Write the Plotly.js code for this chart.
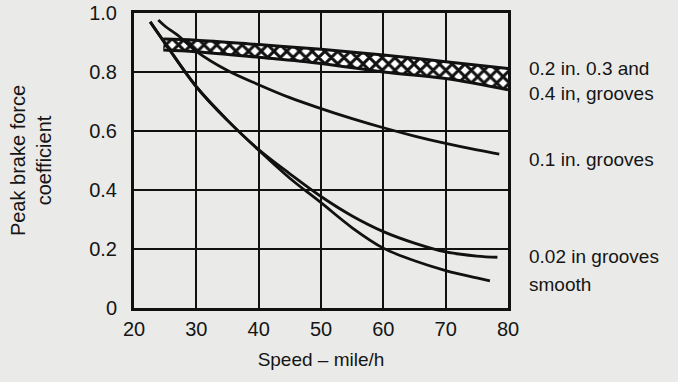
<!DOCTYPE html>
<html>
<head>
<meta charset="utf-8">
<script src="https://cdn.plot.ly/plotly-3.0.1.min.js"></script>
<style>
html,body{margin:0;padding:0;background:#eaeae8;}
#chart{width:678px;height:382px;}
</style>
</head>
<body>
<div id="chart"></div>
<script>
// Band: 0.2, 0.3 and 0.4 in. grooves
const bandSpeed = [24.7, 30, 40, 50, 60, 70, 80];
const bandTop = [0.912, 0.908, 0.893, 0.877, 0.858, 0.835, 0.812];
const bandBottom = [0.875, 0.869, 0.850, 0.829, 0.800, 0.778, 0.740];

// 0.1 in. grooves
const g01Speed = [23.9, 25, 27, 30, 35, 40, 45, 50, 55, 60, 65, 70, 75, 78.6];
const g01Coef = [0.976, 0.955, 0.925, 0.870, 0.805, 0.757, 0.713, 0.676, 0.642, 0.611, 0.583, 0.558, 0.536, 0.522];

// 0.02 in grooves
const g002Speed = [22.6, 25, 30, 35, 40, 45, 50, 55, 60, 65, 70, 75, 78.3];
const g002Coef = [0.970, 0.897, 0.750, 0.636, 0.537, 0.455, 0.378, 0.312, 0.259, 0.220, 0.190, 0.176, 0.172];

// smooth
const smoothSpeed = [22.6, 25, 30, 35, 40, 45, 50, 55, 60, 65, 70, 75, 77.1];
const smoothCoef = [0.970, 0.897, 0.750, 0.636, 0.535, 0.440, 0.357, 0.272, 0.203, 0.160, 0.127, 0.102, 0.092];

const xTicks = [20, 30, 40, 50, 60, 70, 80];
const yTicks = [0, 0.2, 0.4, 0.6, 0.8, 1.0];
const yTickText = ['0', '0.2', '0.4', '0.6', '0.8', '1.0'];

const labels = [
  {text: '0.2 in. 0.3 and', y: 0.8125},
  {text: '0.4 in, grooves', y: 0.728},
  {text: '0.1 in. grooves', y: 0.502},
  {text: '0.02 in grooves', y: 0.174},
  {text: 'smooth', y: 0.078}
];

const ink = '#111';
const txt = '#151515';
const FONT = 'Liberation Sans, Arial, sans-serif';

const traces = [
  {x: bandSpeed, y: bandBottom, mode: 'lines', line: {color: ink, width: 3, shape: 'spline'}, hoverinfo: 'skip'},
  {x: bandSpeed, y: bandTop, mode: 'lines', line: {color: ink, width: 3, shape: 'spline'},
   fill: 'tonexty', fillcolor: 'white',
   fillpattern: {shape: 'x', fgcolor: ink, bgcolor: 'white', size: 9, solidity: 0.55}, hoverinfo: 'skip'},
  {x: g01Speed, y: g01Coef, mode: 'lines', line: {color: ink, width: 2.8, shape: 'spline'}},
  {x: g002Speed, y: g002Coef, mode: 'lines', line: {color: ink, width: 2.8, shape: 'spline'}},
  {x: smoothSpeed, y: smoothCoef, mode: 'lines', line: {color: ink, width: 2.8, shape: 'spline'}}
];

const layout = {
  width: 678, height: 382,
  margin: {l: 134, r: 170, t: 13, b: 74},
  paper_bgcolor: '#eaeae8',
  plot_bgcolor: '#eaeae8',
  showlegend: false,
  font: {family: FONT, size: 19, color: txt},
  xaxis: {
    range: [20, 80], tickvals: xTicks, ticktext: xTicks.map(String),
    showgrid: true, gridcolor: ink, gridwidth: 2.2,
    showline: true, linecolor: ink, linewidth: 3, mirror: true,
    zeroline: false, ticks: '', ticklabelstandoff: 1,
    tickfont: {family: FONT, size: 20, color: txt},
    title: {text: 'Speed – mile/h', font: {family: FONT, size: 19, color: txt}, standoff: 14}
  },
  yaxis: {
    range: [0, 1], tickvals: yTicks, ticktext: yTickText,
    showgrid: true, gridcolor: ink, gridwidth: 2.2,
    showline: true, linecolor: ink, linewidth: 3, mirror: true,
    zeroline: false, ticks: '', ticklabelstandoff: 10,
    tickfont: {family: FONT, size: 20, color: txt},
    title: {text: 'Peak brake force<br>coefficient', font: {family: FONT, size: 20, color: txt}, standoff: 33}
  },
  annotations: labels.map(l => ({
    text: l.text, xref: 'paper', yref: 'y', x: 1.051, y: l.y,
    xanchor: 'left', yanchor: 'middle', showarrow: false,
    font: {family: FONT, size: 19, color: txt}
  }))
};

Plotly.newPlot('chart', traces, layout, {staticPlot: true, displayModeBar: false});
</script>
</body>
</html>
